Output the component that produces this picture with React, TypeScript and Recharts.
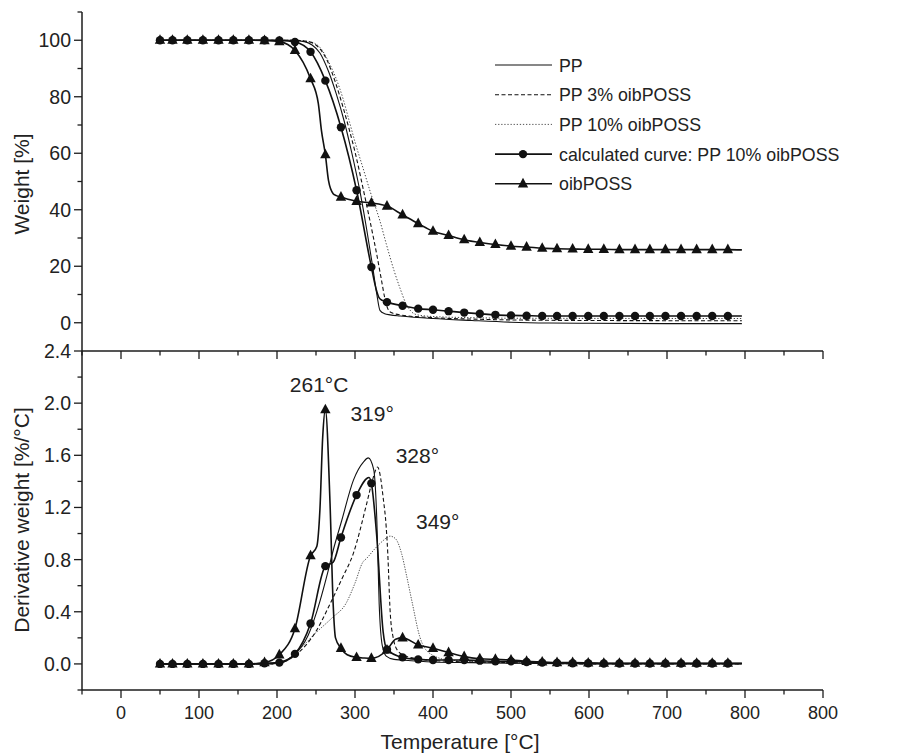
import { ComposedChart, Line, XAxis, YAxis, ReferenceDot, Legend } from 'recharts';

const FONT = '"Liberation Sans", Arial, Helvetica, sans-serif';
const AX = '#1c1c1c';

// x axis: temperature, °C (last label is printed "800" in the source figure)
const xTicks = [-50, 0, 50, 100, 150, 200, 250, 300, 350, 400, 450, 500, 550, 600, 650, 700, 750, 800, 850, 900];
const xMajor = [0, 100, 200, 300, 400, 500, 600, 700, 800, 900];
const xLabels = ['0', '100', '200', '300', '400', '500', '600', '700', '800', '800'];

const wTicks = [0, 10, 20, 30, 40, 50, 60, 70, 80, 90, 100, 110];
const dTicks = [-0.2, 0, 0.2, 0.4, 0.6, 0.8, 1.0, 1.2, 1.4, 1.6, 1.8, 2.0, 2.2, 2.4];

// temperatures where the symbols sit
const markT = [50, 66, 85, 105, 125, 144, 164, 184, 203, 223, 243, 262, 282, 302, 321, 341, 361, 381, 400,
  420, 440, 460, 480, 500, 520, 540, 559, 579, 599, 619, 639, 659, 678, 698, 718, 738, 758, 778];

// ---- weight [%] ----
const calcW = [100, 100, 100, 100, 100, 100, 100, 100, 99.9, 99.4, 95.9, 85.7, 69.2, 46.9, 19.7, 7.3, 6.0, 5.0, 4.6,
  4.1, 3.6, 3.2, 2.8, 2.6, 2.5, 2.4, 2.4, 2.4, 2.4, 2.4, 2.4, 2.4, 2.4, 2.4, 2.4, 2.4, 2.4, 2.4];
const calcWExtraT = [327, 331, 335, 796];
const calcWExtra = [12, 8.8, 7.9, 2.4];

const possW = [100, 100, 100, 100, 100, 100, 100, 99.9, 99.5, 96.4, 86.4, 59.5, 44.5, 43.0, 42.4, 41.3, 38.2, 35.1, 32.4,
  30.9, 29.4, 28.4, 27.7, 27.1, 26.8, 26.4, 26.2, 26.1, 26.0, 26.0, 25.9, 25.9, 25.9, 25.9, 25.9, 25.9, 25.9, 25.9];
const possWExtraT = [253, 257, 266, 272, 276, 796];
const possWExtra = [77.6, 68, 50.4, 45.7, 45, 25.8];

const ppWT = [50, 215, 235, 245, 255, 266, 276, 286, 296, 306, 315, 322, 328, 332, 338, 345, 358, 400, 450, 500, 550, 600, 700, 796];
const ppW = [100, 100, 99.5, 98.3, 95.5, 89, 81, 71.5, 60, 47, 33, 21, 10, 4.4, 3.2, 2.8, 2.4, 1.5, 0.8, 0.2, -0.1, -0.2, -0.3, -0.3];

const pp3WT = [50, 220, 240, 255, 264, 275, 285, 293, 300, 310, 320, 328, 334, 338, 342, 347, 360, 400, 450, 500, 600, 796];
const pp3W = [100, 100, 99.5, 97, 93, 85, 76, 68, 60.5, 48, 35, 24, 15, 9, 5, 3.5, 2.7, 1.8, 1.3, 1.0, 0.8, 0.7];

const pp10WT = [50, 220, 240, 255, 265, 275, 285, 293, 300, 310, 320, 332, 340, 350, 358, 365, 372, 380, 400, 450, 500, 796];
const pp10W = [100, 100, 99.6, 97.5, 93, 87, 79, 71, 64, 55, 46, 36, 28, 18.5, 12, 7, 4, 2.8, 2.2, 1.8, 1.6, 1.5];

// ---- derivative weight [%/°C] ----
const calcD = [0, 0, 0, 0, 0, 0, 0, 0.005, 0.01, 0.077, 0.31, 0.75, 0.97, 1.295, 1.385, 0.11, 0.05, 0.035, 0.03,
  0.03, 0.03, 0.025, 0.02, 0.02, 0.015, 0.01, 0.008, 0.005, 0.005, 0.003, 0.003, 0.003, 0.003, 0.003, 0.003, 0.003, 0.003, 0.003];
const calcDExtraT = [272, 318, 328, 336, 796];
const calcDExtra = [0.78, 1.43, 0.97, 0.25, 0.003];

const possD = [0, 0, 0, 0, 0, 0, 0, 0.01, 0.07, 0.27, 0.83, 1.95, 0.12, 0.05, 0.043, 0.107, 0.2, 0.146, 0.12,
  0.087, 0.056, 0.04, 0.035, 0.03, 0.02, 0.015, 0.01, 0.01, 0.008, 0.005, 0.005, 0.005, 0.005, 0.005, 0.005, 0.005, 0.005, 0.005];
const possDExtraT = [251, 255, 258.6, 268, 272, 275, 290, 312, 352, 796];
const possDExtra = [0.9, 1.18, 1.74, 1.23, 0.46, 0.2, 0.07, 0.045, 0.19, 0.005];

const ppDT = [50, 190, 200, 220, 240, 255, 265, 272, 283, 298, 311, 317, 324, 328, 331, 335, 340, 350, 360, 400, 450, 500, 600, 796];
const ppD = [0, 0, 0.01, 0.06, 0.22, 0.48, 0.7, 0.87, 1.1, 1.41, 1.55, 1.58, 1.49, 1.1, 0.46, 0.14, 0.06, 0.035, 0.03, 0.015, 0.01, 0.005, 0, 0];

const pp3DT = [50, 190, 205, 230, 250, 268, 283, 298, 315, 322, 329, 333, 336, 340, 342, 345, 349, 355, 365, 380, 420, 500, 600, 796];
const pp3D = [0, 0, 0.01, 0.1, 0.25, 0.46, 0.65, 0.85, 1.23, 1.4, 1.51, 1.42, 1.28, 1.05, 0.85, 0.41, 0.2, 0.1, 0.06, 0.04, 0.02, 0.01, 0, 0];

const pp10DT = [50, 190, 205, 230, 250, 270, 289, 300, 310, 315, 325, 335, 345, 352, 360, 366, 373, 383, 396, 420, 450, 500, 796];
const pp10D = [0, 0, 0.01, 0.12, 0.24, 0.35, 0.47, 0.62, 0.78, 0.81, 0.88, 0.94, 0.98, 0.96, 0.84, 0.68, 0.48, 0.21, 0.08, 0.03, 0.02, 0.01, 0];

// peak labels
const peakT = [254, 322, 380, 406];
const peakD = [2.14, 1.92, 1.6, 1.09];
const peakText = ['261°C', '319°', '328°', '349°'];

type Pt = { t: number; v: number; m?: boolean };

const zip = (ts: number[], vs: number[]): Pt[] => ts.map((t, i) => ({ t, v: vs[i] }));
const withMarks = (mt: number[], mv: number[], et: number[], ev: number[]): Pt[] =>
  [...zip(mt, mv).map(p => ({ ...p, m: true })), ...zip(et, ev)].sort((a, b) => a.t - b.t);

const calcWData = withMarks(markT, calcW, calcWExtraT, calcWExtra);
const possWData = withMarks(markT, possW, possWExtraT, possWExtra);
const calcDData = withMarks(markT, calcD, calcDExtraT, calcDExtra);
const possDData = withMarks(markT, possD, possDExtraT, possDExtra);

const legendItems = [
  { name: 'PP', dash: undefined as string | undefined, width: 1.1, color: '#111', marker: '' },
  { name: 'PP 3% oibPOSS', dash: '4 2.5', width: 1.1, color: '#111', marker: '' },
  { name: 'PP 10% oibPOSS', dash: '1.3 1.8', width: 1.0, color: '#555', marker: '' },
  { name: 'calculated curve: PP 10% oibPOSS', dash: undefined, width: 1.6, color: '#111', marker: 'circle' },
  { name: 'oibPOSS', dash: undefined, width: 1.6, color: '#111', marker: 'triangle' },
];

const circleDot = (p: any) =>
  p.payload && p.payload.m
    ? <circle key={`c${p.index}`} cx={p.cx} cy={p.cy} r={4.2} fill="#111" />
    : <g key={`c${p.index}`} />;

const triPoints = (cx: number, cy: number) => `${cx},${cy - 6} ${cx - 5.2},${cy + 3.6} ${cx + 5.2},${cy + 3.6}`;
const triDot = (p: any) =>
  p.payload && p.payload.m
    ? <polygon key={`t${p.index}`} points={triPoints(p.cx, p.cy)} fill="#111" />
    : <g key={`t${p.index}`} />;

const xTick = (withLabel: boolean) => (props: any) => {
  const { x, y, payload } = props;
  const i = xMajor.indexOf(payload.value);
  const len = i >= 0 ? 8 : 4.5;
  return (
    <g>
      <line x1={x} y1={y} x2={x} y2={y + len} stroke={AX} strokeWidth={1.3} />
      {withLabel && i >= 0 && (
        <text x={x} y={y + 29} textAnchor="middle" fontSize={18} fill="#222">{xLabels[i]}</text>
      )}
    </g>
  );
};

const yTick = (isMajor: (v: number) => boolean, fmt: (v: number) => string) => (props: any) => {
  const { x, y, payload } = props;
  const major = isMajor(payload.value);
  return (
    <g>
      <line x1={x - (major ? 8 : 4.5)} y1={y} x2={x} y2={y} stroke={AX} strokeWidth={1.3} />
      {major && (
        <text x={x - 11} y={y + 7} textAnchor="end" fontSize={19.5} fill="#222">{fmt(payload.value)}</text>
      )}
    </g>
  );
};

const renderLegend = () => (
  <svg width={370} height={160} style={{ display: 'block', fontFamily: FONT }}>
    {legendItems.map((it, i) => {
      const cy = 24 + i * 29.7;
      return (
        <g key={it.name}>
          <line x1={15} x2={72} y1={cy} y2={cy} stroke={it.color} strokeWidth={it.width} strokeDasharray={it.dash} />
          {it.marker === 'circle' && <circle cx={43} cy={cy} r={4.2} fill="#111" />}
          {it.marker === 'triangle' && <polygon points={triPoints(43, cy)} fill="#111" />}
          <text x={79} y={cy + 6.5} fontSize={17.8} fill="#222">{it.name}</text>
        </g>
      );
    })}
  </svg>
);

const axisLine = { stroke: AX, strokeWidth: 1.5 };

export default function App() {
  return (
    <div style={{ position: 'absolute', left: 0, top: 0, width: 897, height: 753, background: '#fff', fontFamily: FONT }}>
      {/* weight panel */}
      <div style={{ position: 'absolute', left: 0, top: 0 }}>
        <ComposedChart width={897} height={360} margin={{ top: 12, right: 74, bottom: 0, left: 0 }}>
          <XAxis type="number" dataKey="t" domain={[-50, 900]} ticks={xTicks} interval={0} height={9}
            tickSize={0} tickMargin={0} tickLine={false} axisLine={axisLine} tick={xTick(false)} allowDataOverflow />
          <YAxis type="number" domain={[-10, 110]} ticks={wTicks} interval={0} width={82}
            tickSize={0} tickMargin={0} tickLine={false} axisLine={axisLine}
            tick={yTick(v => v % 20 === 0, v => String(v))} allowDataOverflow />
          <Legend layout="vertical" align="center" verticalAlign="middle" content={renderLegend}
            wrapperStyle={{ left: 480, top: 41, width: 370, height: 160 }} />
          <Line data={zip(pp10WT, pp10W)} dataKey="v" type="monotone" stroke="#444" strokeWidth={1.0}
            strokeDasharray="1.3 1.8" dot={false} isAnimationActive={false} legendType="none" />
          <Line data={zip(pp3WT, pp3W)} dataKey="v" type="monotone" stroke="#111" strokeWidth={1.1}
            strokeDasharray="4 2.5" dot={false} isAnimationActive={false} legendType="none" />
          <Line data={zip(ppWT, ppW)} dataKey="v" type="monotone" stroke="#111" strokeWidth={1.1}
            dot={false} isAnimationActive={false} legendType="none" />
          <Line data={calcWData} dataKey="v" type="monotone" stroke="#111" strokeWidth={1.6}
            dot={circleDot} isAnimationActive={false} legendType="none" />
          <Line data={possWData} dataKey="v" type="monotone" stroke="#111" strokeWidth={1.6}
            dot={triDot} isAnimationActive={false} legendType="none" />
        </ComposedChart>
      </div>

      {/* derivative panel */}
      <div style={{ position: 'absolute', left: 0, top: 340 }}>
        <ComposedChart width={897} height={413} margin={{ top: 11, right: 74, bottom: 0, left: 0 }}>
          <XAxis type="number" dataKey="t" domain={[-50, 900]} ticks={xTicks} interval={0} height={63}
            tickSize={0} tickMargin={0} tickLine={false} axisLine={axisLine} tick={xTick(true)} allowDataOverflow />
          <YAxis type="number" domain={[-0.2, 2.4]} ticks={dTicks} interval={0} width={82}
            tickSize={0} tickMargin={0} tickLine={false} axisLine={axisLine}
            tick={yTick(v => Math.round(v * 10) % 4 === 0 && v >= 0, v => v.toFixed(1))} allowDataOverflow />
          <Line data={zip(pp10DT, pp10D)} dataKey="v" type="monotone" stroke="#555" strokeWidth={1.0}
            strokeDasharray="1.3 1.3" dot={false} isAnimationActive={false} />
          <Line data={zip(pp3DT, pp3D)} dataKey="v" type="monotone" stroke="#111" strokeWidth={1.1}
            strokeDasharray="4 2.5" dot={false} isAnimationActive={false} />
          <Line data={zip(ppDT, ppD)} dataKey="v" type="monotone" stroke="#111" strokeWidth={1.1}
            dot={false} isAnimationActive={false} />
          <Line data={calcDData} dataKey="v" type="monotone" stroke="#111" strokeWidth={1.6}
            dot={circleDot} isAnimationActive={false} />
          <Line data={possDData} dataKey="v" type="monotone" stroke="#111" strokeWidth={1.6}
            dot={triDot} isAnimationActive={false} />
          {peakT.map((t, i) => (
            <ReferenceDot key={peakText[i]} x={t} y={peakD[i]} r={0} fill="none" stroke="none"
              label={{ value: peakText[i], position: 'center', fontSize: 21, fill: '#222' }} />
          ))}
        </ComposedChart>
      </div>

      {/* axis titles */}
      <svg width={897} height={753} style={{ position: 'absolute', left: 0, top: 0, pointerEvents: 'none' }}>
        <text transform="translate(29,184) rotate(-90)" textAnchor="middle" fontSize={21} fill="#222">Weight [%]</text>
        <text transform="translate(29,520) rotate(-90)" textAnchor="middle" fontSize={21} fill="#222">Derivative weight [%/°C]</text>
        <text x={460} y={749} textAnchor="middle" fontSize={21} fill="#222">Temperature [°C]</text>
      </svg>
    </div>
  );
}
